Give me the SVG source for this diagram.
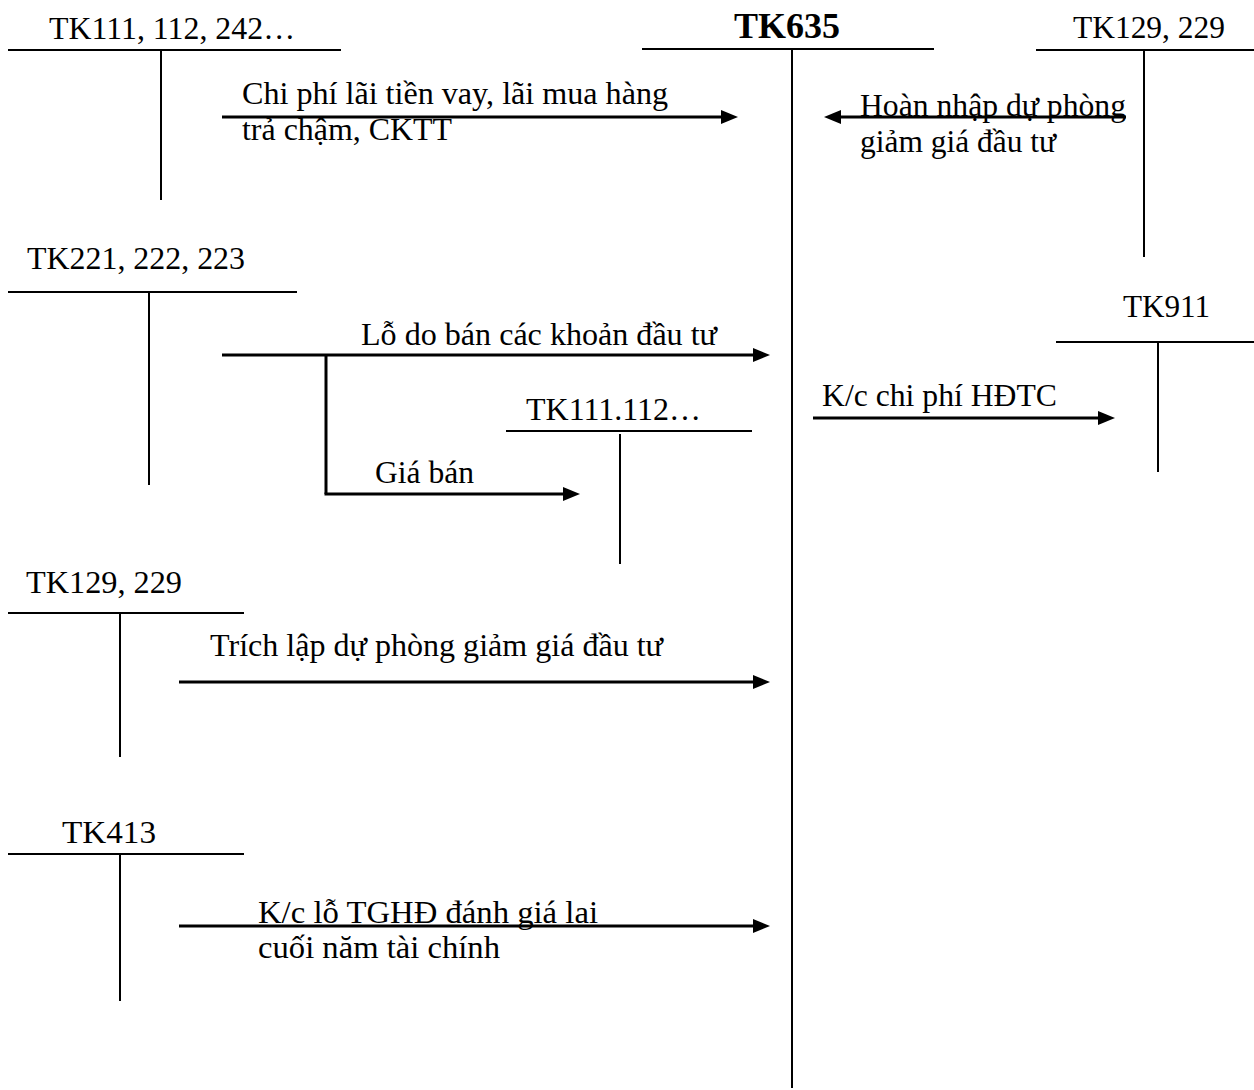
<svg xmlns="http://www.w3.org/2000/svg" width="1254" height="1090" viewBox="0 0 1254 1090">
  <style>
    text { font-family: "Liberation Serif", "Times New Roman", serif; font-size: 32px; fill: #000; }
    .title { font-size: 36px; font-weight: bold; }
    .t { stroke: #000; stroke-width: 2; fill: none; }
    .flow { stroke: #000; stroke-width: 3; fill: none; marker-end: url(#head); }
    .seg { stroke: #000; stroke-width: 3; fill: none; }
  </style>
  <defs>
    <marker id="head" markerUnits="userSpaceOnUse" markerWidth="17" markerHeight="14" refX="11" refY="7" orient="auto">
      <path d="M0,0 L17,7 L0,14 Z" fill="#000"/>
    </marker>
  </defs>
  <rect width="1254" height="1090" fill="#fff"/>

  <!-- T-accounts -->
  <g id="tk111-112-242">
    <text x="49" y="39" textLength="246" lengthAdjust="spacingAndGlyphs">TK111, 112, 242…</text>
    <path class="t" d="M8,50 H341 M161,50 V200"/>
  </g>
  <g id="tk635">
    <text class="title" x="734" y="38" textLength="106" lengthAdjust="spacingAndGlyphs">TK635</text>
    <path class="t" d="M642,49 H934 M792,49 V1088"/>
  </g>
  <g id="tk129-229-right">
    <text x="1073" y="38" textLength="152" lengthAdjust="spacingAndGlyphs">TK129, 229</text>
    <path class="t" d="M1036,50 H1254 M1144,50 V257"/>
  </g>
  <g id="tk221-222-223">
    <text x="27" y="269" textLength="218" lengthAdjust="spacingAndGlyphs">TK221, 222, 223</text>
    <path class="t" d="M8,292 H297 M149,292 V485"/>
  </g>
  <g id="tk911">
    <text x="1123" y="317" textLength="87" lengthAdjust="spacingAndGlyphs">TK911</text>
    <path class="t" d="M1056,342 H1254 M1158,342 V472"/>
  </g>
  <g id="tk111-112">
    <text x="526" y="420" textLength="175" lengthAdjust="spacingAndGlyphs">TK111.112…</text>
    <path class="t" d="M506,431 H752 M620,434 V564"/>
  </g>
  <g id="tk129-229-left">
    <text x="26" y="593" textLength="156" lengthAdjust="spacingAndGlyphs">TK129, 229</text>
    <path class="t" d="M8,613 H244 M120,613 V757"/>
  </g>
  <g id="tk413">
    <text x="62" y="843" textLength="94" lengthAdjust="spacingAndGlyphs">TK413</text>
    <path class="t" d="M8,854 H244 M120,854 V1001"/>
  </g>

  <!-- Entries between accounts -->
  <g id="connectors">
    <path class="flow" d="M222,117 H732"/>
    <path class="flow" d="M1126,117 H830"/>
    <path class="flow" d="M222,355 H764"/>
    <path class="seg" d="M326,355 V494"/>
    <path class="flow" d="M324.5,494 H574"/>
    <path class="flow" d="M813,418 H1109"/>
    <path class="flow" d="M179,682 H764"/>
    <path class="flow" d="M179,926 H764"/>
  </g>

  <!-- Entry labels -->
  <g id="labels">
    <text x="242" y="104" textLength="426" lengthAdjust="spacingAndGlyphs">Chi phí lãi tiền vay, lãi mua hàng</text>
    <text x="242" y="140" textLength="210" lengthAdjust="spacingAndGlyphs">trả chậm, CKTT</text>
    <text x="860" y="116" textLength="266" lengthAdjust="spacingAndGlyphs">Hoàn nhập dự phòng</text>
    <text x="860" y="152" textLength="196" lengthAdjust="spacingAndGlyphs">giảm giá đầu tư</text>
    <text x="361" y="345" textLength="356" lengthAdjust="spacingAndGlyphs">Lỗ do bán các khoản đầu tư</text>
    <text x="822" y="406" textLength="235" lengthAdjust="spacingAndGlyphs">K/c chi phí HĐTC</text>
    <text x="375" y="483" textLength="99" lengthAdjust="spacingAndGlyphs">Giá bán</text>
    <text x="210" y="656" textLength="453" lengthAdjust="spacingAndGlyphs">Trích lập dự phòng giảm giá đầu tư</text>
    <text x="258" y="923" textLength="340" lengthAdjust="spacingAndGlyphs">K/c lỗ TGHĐ đánh giá lai</text>
    <text x="258" y="958" textLength="242" lengthAdjust="spacingAndGlyphs">cuối năm tài chính</text>
  </g>
</svg>
